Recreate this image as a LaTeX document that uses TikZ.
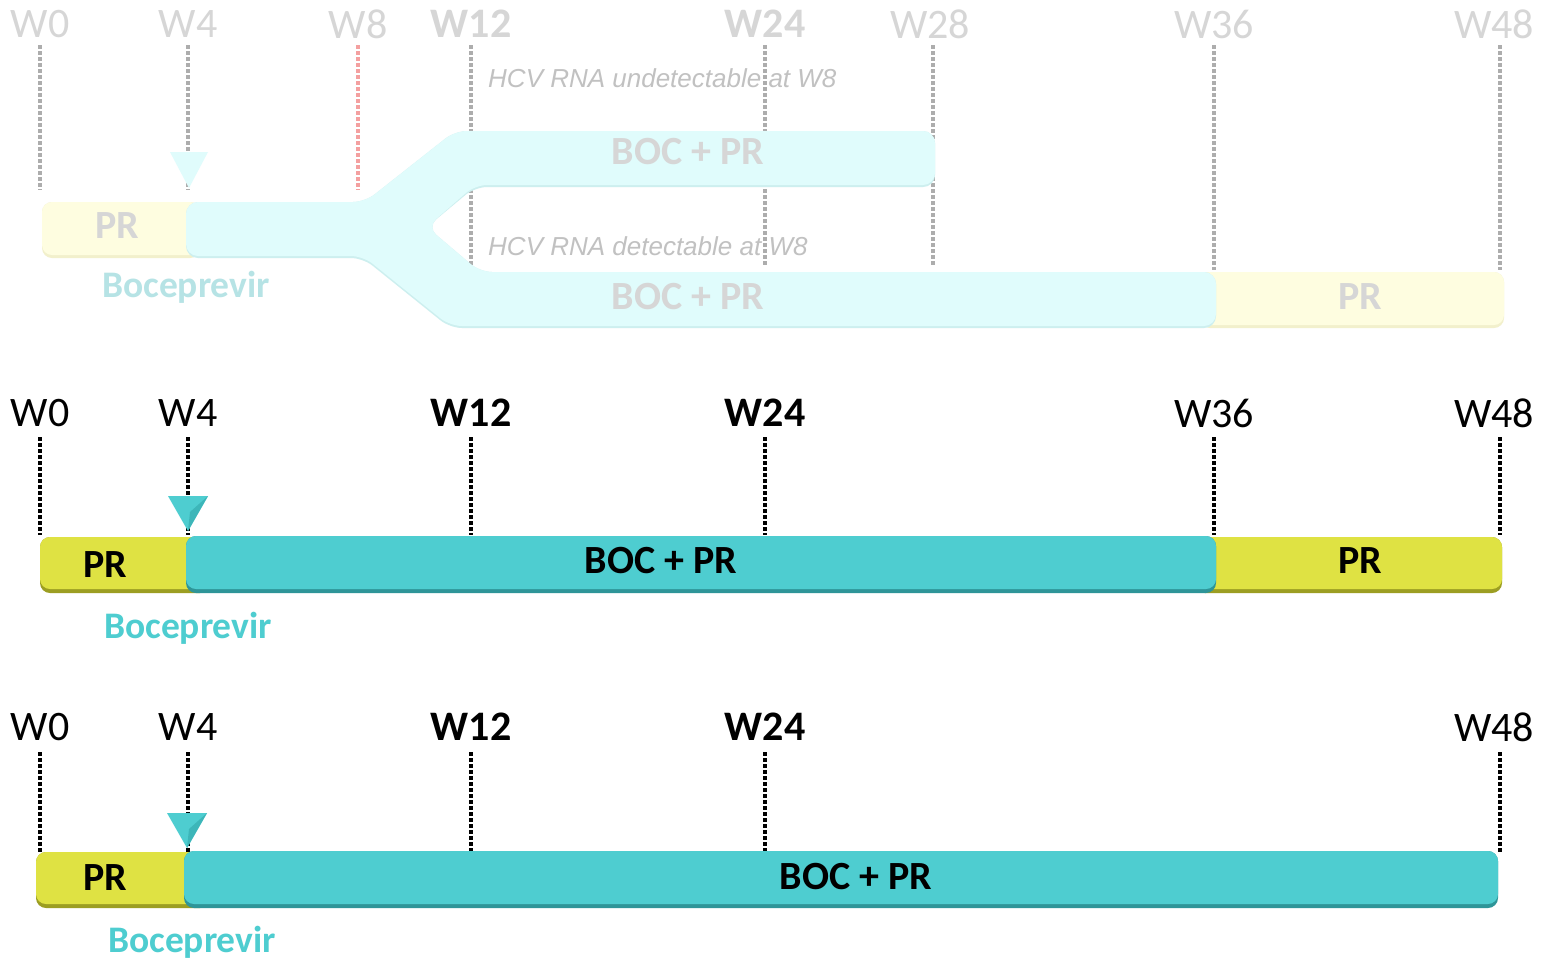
\documentclass[tikz,border=0pt]{standalone}
\usepackage{fontspec}
\setmainfont{Carlito}
\newfontfamily\arialfont{Liberation Sans}
\definecolor{cteal}{HTML}{4ECDD0}
\definecolor{cteald}{HTML}{2E9598}
\definecolor{ctealm}{HTML}{3DB6B9}
\definecolor{cyel}{HTML}{DFE243}
\definecolor{cyeld}{HTML}{9C9E22}
\definecolor{fteal}{HTML}{E0FCFC}
\definecolor{ftealb}{HTML}{CDEFEF}
\definecolor{fyel}{HTML}{FEFDE0}
\definecolor{fyelb}{HTML}{F2F0CC}
\definecolor{fgray}{HTML}{D6D6D6}
\definecolor{fdot}{HTML}{ADADAD}
\definecolor{fred}{HTML}{F4A0A0}
\definecolor{fbocep}{HTML}{B6E3E5}
\tikzset{
  wk/.style={inner sep=0pt, font=\fontsize{42}{42}\selectfont},
  wkb/.style={wk, font=\fontsize{42}{42}\selectfont\bfseries},
  tick/.style={line width=3.5pt, dash pattern=on 3.5pt off 2.5pt},
  ftick/.style={tick, draw=fdot},
  bartxt/.style={inner sep=0pt, font=\fontsize{40}{40}\selectfont\bfseries},
  boc/.style={inner sep=0pt, text=cteal, font=\fontsize{37.5}{37.5}\selectfont\bfseries},
  hcv/.style={inner sep=0pt, anchor=west, text=fgray!90!black, font=\fontsize{26}{26}\selectfont\arialfont\itshape},
  rbox/.style={rounded corners=10pt},
}
\begin{document}
\begin{tikzpicture}[x=1pt,y=-1pt]
\useasboundingbox[fill=white] (0,0) rectangle (1541,959);

% ================= TOP (faded) =================
\foreach \x/\ya/\yb in {40/45/190, 188/45/190, 471/45/265, 765/45/265, 933/45/265, 1214/45/270, 1500/45/270}
  \draw[ftick] (\x,\ya) -- (\x,\yb);
\draw[tick, draw=fred] (358,45) -- (358,190);

\node[wk, text=fgray] (t0) at (40,24) {W0};
\node[wk, text=fgray] (t4) at (188,24) {W4};
\node[wk, text=fgray] (t8) at (358,24) {W8};
\node[wkb, text=fgray] (t12) at (471,24) {W12};
\node[wkb, text=fgray] (t24) at (765,24) {W24};
\node[wk, text=fgray] (t28) at (930,24) {W28};
\node[wk, text=fgray] (t36) at (1214,24) {W36};
\node[wk, text=fgray] (t48) at (1494,24) {W48};

% faded bars
\fill[rbox, fyelb] (42,202) rectangle (200,258);
\fill[rbox, fyel] (42,202) rectangle (200,255);
\fill[rbox, fyelb] (1200,272) rectangle (1504,328);
\fill[rbox, fyel] (1200,272) rectangle (1504,325);
\fill[rounded corners=12pt, ftealb]
  (186,202) -- (365,202) -- (455,131) -- (935,131) -- (935,187) -- (475,187)
  -- (427,227) -- (480,272) -- (1216,272) -- (1216,328) -- (450,328)
  -- (363,258) -- (186,258) -- cycle;
\fill[rounded corners=12pt, fteal]
  (186,202) -- (365,202) -- (455,131) -- (935,131) -- (935,185) -- (475,185)
  -- (427,227) -- (480,272) -- (1216,272) -- (1216,326) -- (450,326)
  -- (363,256) -- (186,256) -- cycle;
\fill[fteal] (170,152) -- (208,152) -- (189,188) -- cycle;

\node[bartxt, text=fgray] (tpr1) at (117,226) {PR};
\node[bartxt, text=fgray] (tboc1) at (688,152) {BOC + PR};
\node[bartxt, text=fgray] (tboc2) at (688,297) {BOC + PR};
\node[bartxt, text=fgray] (tpr2) at (1360,297) {PR};
\node[boc, text=fbocep] (tbocep) at (186,287) {Boceprevir};
\node[hcv] (hu) at (488,78) {HCV RNA undetectable at W8};
\node[hcv] (hd) at (488,246) {HCV RNA detectable at W8};

% ================= MIDDLE =================
\foreach \x in {40,188,471,765,1214,1500}
  \draw[tick] (\x,437) -- (\x,535);
\node[wk] (m0) at (40,413) {W0};
\node[wk] (m4) at (188,413) {W4};
\node[wkb] (m12) at (471,413) {W12};
\node[wkb] (m24) at (765,413) {W24};
\node[wk] (m36) at (1214,413) {W36};
\node[wk] (m48) at (1494,413) {W48};

\fill[rbox, cyeld] (40,537) rectangle (210,593);
\fill[rbox, cyel] (40,537) rectangle (210,589);
\fill[rbox, cyeld] (1195,537) rectangle (1502,593);
\fill[rbox, cyel] (1195,537) rectangle (1502,589);
\fill[rbox, cteald] (186,536) rectangle (1216,593);
\fill[rbox, cteal] (186,536) rectangle (1216,589);
\fill[cteal] (168,496) -- (208,496) -- (188,531) -- cycle;
\fill[ctealm] (190,512) -- (208,496) -- (188,531) -- cycle;

\node[bartxt] (mpr1) at (105,565) {PR};
\node[bartxt] (mboc) at (661,561) {BOC + PR};
\node[bartxt] (mpr2) at (1360,561) {PR};
\node[boc] (mbocep) at (188,628) {Boceprevir};

% ================= BOTTOM =================
\foreach \x in {40,188,471,765,1500}
  \draw[tick] (\x,752) -- (\x,852);
\node[wk] (b0) at (40,727) {W0};
\node[wk] (b4) at (188,727) {W4};
\node[wkb] (b12) at (471,727) {W12};
\node[wkb] (b24) at (765,727) {W24};
\node[wk] (b48) at (1494,727) {W48};

\fill[rbox, cyeld] (36,852) rectangle (210,908);
\fill[rbox, cyel] (36,852) rectangle (210,904);
\fill[rbox, cteald] (184,851) rectangle (1498,908);
\fill[rbox, cteal] (184,851) rectangle (1498,904);
\fill[cteal] (167,813) -- (207,813) -- (187,848) -- cycle;
\fill[ctealm] (189,829) -- (207,813) -- (187,848) -- cycle;

\node[bartxt] (bpr1) at (105,878) {PR};
\node[bartxt] (bboc) at (856,877) {BOC + PR};
\node[boc] (bbocep) at (192,942) {Boceprevir};
\end{tikzpicture}
\end{document}
